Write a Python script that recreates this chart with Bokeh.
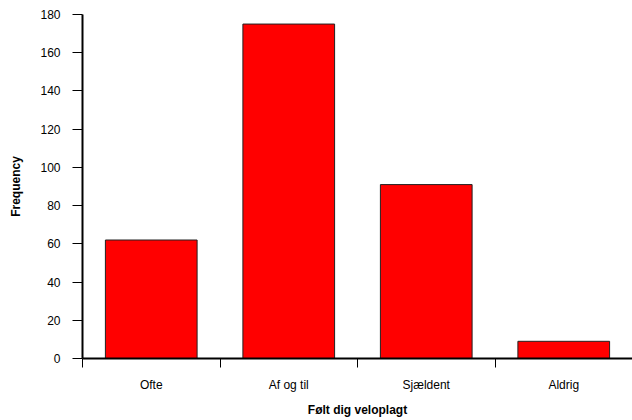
from bokeh.plotting import figure
from bokeh.models import Range1d, LinearAxis, FixedTicker, ColumnDataSource
from bokeh.embed import file_html
from bokeh.resources import INLINE

categories = ["Ofte", "Af og til", "Sjældent", "Aldrig"]
frequency = [62, 175, 91, 9]
y_ticks = [0, 20, 40, 60, 80, 100, 120, 140, 160, 180]
x_title = "Følt dig veloplagt"
y_title = "Frequency"

FONT = "Liberation Sans"

n = len(categories)
centers = [i + 0.5 for i in range(n)]
src = ColumnDataSource(dict(x=centers, freq=frequency, cat=categories))

p = figure(x_range=Range1d(0, n),
           y_range=Range1d(0, 180),
           width=632, height=420,
           output_backend="svg", toolbar_location=None,
           x_axis_location=None, y_axis_location=None,
           min_border_left=82, min_border_right=0,
           min_border_top=14, min_border_bottom=62)
p.outline_line_color = None
p.grid.visible = False
p.background_fill_color = "white"
p.border_fill_color = "white"

p.vbar(x="x", top="freq", width=0.667, bottom=0, source=src,
       fill_color="#ff0000", line_color="#222222", line_width=1)

# y axis
yax = LinearAxis(ticker=FixedTicker(ticks=y_ticks), axis_label=y_title)
yax.axis_line_width = 2
yax.axis_line_color = "black"
yax.major_tick_out = 10
yax.major_tick_in = 0
yax.major_tick_line_color = "black"
yax.minor_tick_line_color = None
yax.major_label_standoff = 12
yax.major_label_text_font = FONT
yax.major_label_text_font_size = "12px"
yax.major_label_text_color = "black"
yax.axis_label_text_font = FONT
yax.axis_label_text_font_size = "12px"
yax.axis_label_text_font_style = "bold"
yax.axis_label_text_color = "black"
yax.axis_label_standoff = 14
p.add_layout(yax, "left")

# boundary ticks on x axis
tax = LinearAxis(ticker=FixedTicker(ticks=list(range(n + 1))),
                 major_label_overrides={i: "" for i in range(n + 1)})
tax.axis_line_width = 2
tax.axis_line_color = "black"
tax.major_tick_out = 9
tax.major_tick_in = 0
tax.major_tick_line_color = "black"
tax.minor_tick_line_color = None
tax.major_label_text_font_size = "1px"
tax.major_label_text_color = None
tax.major_label_standoff = 0
p.add_layout(tax, "below")

# category labels
cax = LinearAxis(ticker=FixedTicker(ticks=centers),
                 major_label_overrides={c: lab for c, lab in zip(centers, categories)})
cax.axis_line_color = None
cax.major_tick_line_color = None
cax.minor_tick_line_color = None
cax.major_label_standoff = 4
cax.major_label_text_font = FONT
cax.major_label_text_font_size = "12px"
cax.major_label_text_color = "black"
cax.axis_label = x_title
cax.axis_label_text_font = FONT
cax.axis_label_text_font_size = "12px"
cax.axis_label_text_font_style = "bold"
cax.axis_label_text_color = "black"
cax.axis_label_standoff = 8
p.add_layout(cax, "below")

open("out.html", "w").write(file_html(p, INLINE))
